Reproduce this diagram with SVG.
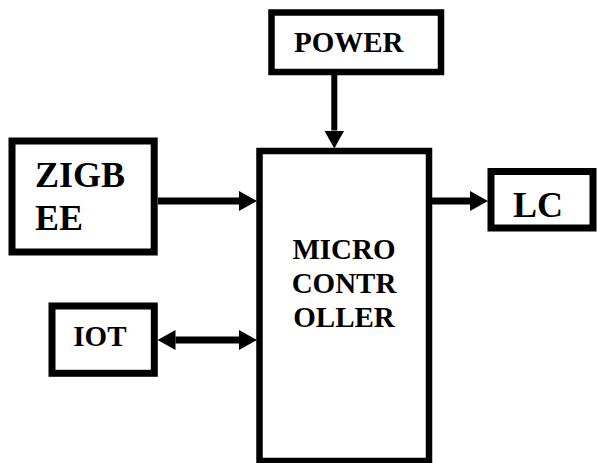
<svg xmlns="http://www.w3.org/2000/svg" width="598" height="463" viewBox="0 0 598 463">
  <defs>
    <style>
      .box { fill: #ffffff; stroke: #000000; stroke-width: 7; }
      .lbl { font-family: 'Liberation Serif', 'Times New Roman', serif; font-weight: 700; fill: #000000; }
      .big { font-size: 36px; }
      .med { font-size: 29px; }
      .mid { text-anchor: middle; }
      .conn { fill: none; stroke: #000000; stroke-width: 7; }
    </style>
    <marker id="head" markerUnits="userSpaceOnUse" markerWidth="18" markerHeight="20" refX="0" refY="10" orient="auto-start-reverse" viewBox="0 0 18 20">
      <path d="M0,0 L18,10 L0,20 Z" fill="#000000"/>
    </marker>
  </defs>
  <rect width="598" height="463" fill="#ffffff"/>

  <g id="connectors">
    <path class="conn" d="M334.3,75 L334.3,130.5" style="stroke-width:6" marker-end="url(#head)"/>
    <path class="conn" d="M158,201 L239,201" marker-end="url(#head)"/>
    <path class="conn" d="M432,201 L470,201" marker-end="url(#head)"/>
    <path class="conn" d="M175.5,340 L239,340" marker-start="url(#head)" marker-end="url(#head)"/>
  </g>

  <g id="power">
    <rect class="box" x="271.5" y="12.5" width="169.5" height="59.5" style="stroke-width:6.5"/>
    <text class="lbl med" x="294" y="52.3">POWER</text>
  </g>

  <g id="zigbee">
    <rect class="box" x="12" y="141" width="142.2" height="111"/>
    <text class="lbl big" x="35" y="186.7">ZIGB</text>
    <text class="lbl big" x="35" y="230">EE</text>
  </g>

  <g id="microcontroller">
    <rect class="box" x="259.5" y="151" width="169.5" height="310" style="stroke-width:6.5"/>
    <text class="lbl med mid" x="344" y="259">MICRO</text>
    <text class="lbl med mid" x="344" y="293.3">CONTR</text>
    <text class="lbl med mid" x="344" y="326.7">OLLER</text>
  </g>

  <g id="lc">
    <rect class="box" x="491" y="171.5" width="102" height="56.5"/>
    <text class="lbl big" x="513" y="216.7">LC</text>
  </g>

  <g id="iot">
    <rect class="box" x="52" y="306" width="102.3" height="67.3"/>
    <text class="lbl med" x="73.3" y="345.7">IOT</text>
  </g>
</svg>
